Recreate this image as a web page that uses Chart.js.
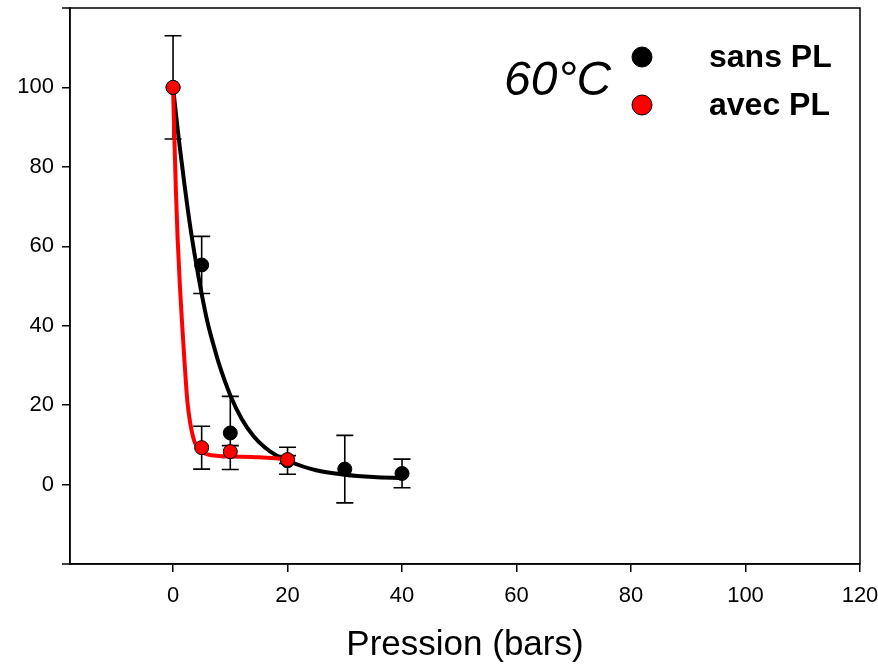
<!DOCTYPE html>
<html>
<head>
<meta charset="utf-8">
<script src="https://cdn.jsdelivr.net/npm/chart.js@4.4.1/dist/chart.umd.min.js"></script>
<style>
  html, body { margin: 0; padding: 0; background: #fff; }
  #wrap { width: 878px; height: 668px; position: relative; }
</style>
</head>
<body>
<div id="wrap"><canvas id="c" width="878" height="668"></canvas></div>
<script>
// Measured points (pressure in bars, relative value in %) with standard deviations
const pressures = [0, 5, 10, 20, 30, 40];
const sansPL = [100, 55.3, 13.0, 6.0, 3.9, 2.8];
const sansPLErr = [13.0, 7.2, 9.2, 3.4, 8.5, 3.6];

const pressuresPL = [0, 5, 10, 20];
const avecPL = [100, 9.3, 8.3, 6.3];
const avecPLErr = [0, 5.4, 1.5, 1.0];

// Fitted decay curves, sampled along the pressure axis
const fitSansX = [0, 1, 2, 3, 4, 5, 6, 7, 8, 10, 12, 14, 16, 18, 20, 25, 30, 35, 40];
const fitSansY = [100, 87, 75.5, 65, 56, 48, 41, 35.5, 30.5, 22.5, 16.5, 12.3, 9.4, 7.4, 6.0, 3.6, 2.5, 1.9, 1.6];
const fitAvecX = [0, 0.25, 0.5, 0.8, 1.2, 1.6, 2.0, 2.5, 3, 3.5, 4, 5, 6, 8, 10, 15, 20];
const fitAvecY = [100, 86.5, 74, 62, 50, 40, 31, 21, 15.5, 12, 10, 8.3, 7.6, 7.2, 7.1, 6.9, 6.4];

const xTicks = [0, 20, 40, 60, 80, 100, 120];
const yTicks = [0, 20, 40, 60, 80, 100];
const yEdgeTicks = [-20, 120];

const seriesNames = ['sans PL', 'avec PL'];
const seriesColors = ['#000000', '#ff0000'];
const tempLabel = '60°C';
const xTitle = 'Pression (bars)';

const pts = (xs, ys) => xs.map((x, i) => ({ x: x, y: ys[i] }));

// Vertical error bars with caps, drawn through the chart scales
const errorBars = {
  id: 'errorBars',
  beforeDatasetsDraw(chart) {
    const { ctx, scales: { x, y } } = chart;
    const sets = [[pressures, sansPL, sansPLErr], [pressuresPL, avecPL, avecPLErr]];
    ctx.save();
    ctx.strokeStyle = '#000';
    ctx.lineWidth = 1.6;
    sets.forEach(([xs, ys, es]) => {
      xs.forEach((xv, i) => {
        if (!es[i]) return;
        const px = x.getPixelForValue(xv);
        const top = y.getPixelForValue(ys[i] + es[i]);
        const bot = y.getPixelForValue(ys[i] - es[i]);
        ctx.beginPath();
        ctx.moveTo(px, top); ctx.lineTo(px, bot);
        ctx.moveTo(px - 8.5, top); ctx.lineTo(px + 8.5, top);
        ctx.moveTo(px - 8.5, bot); ctx.lineTo(px + 8.5, bot);
        ctx.stroke();
      });
    });
    ctx.restore();
  }
};

// Closed frame around the plotting area, plus the unlabelled end ticks of the y axis
const frame = {
  id: 'frame',
  afterDraw(chart) {
    const { ctx, chartArea: a, scales: { y } } = chart;
    ctx.save();
    ctx.strokeStyle = '#000';
    ctx.lineWidth = 1.5;
    ctx.strokeRect(a.left, a.top, a.right - a.left, a.bottom - a.top);
    ctx.beginPath();
    yEdgeTicks.forEach(v => {
      const py = y.getPixelForValue(v);
      ctx.moveTo(a.left - 8, py);
      ctx.lineTo(a.left, py);
    });
    ctx.stroke();
    ctx.restore();
  }
};

// Temperature label and the symbol key in the upper right
const keyBox = {
  id: 'keyBox',
  afterDraw(chart) {
    const { ctx } = chart;
    ctx.save();
    ctx.fillStyle = '#000';
    ctx.textBaseline = 'middle';
    ctx.textAlign = 'left';
    ctx.font = 'italic 48px "Liberation Sans", Arial, sans-serif';
    ctx.fillText(tempLabel, 504, 82);

    const rows = [57, 105];
    seriesNames.forEach((name, i) => {
      ctx.beginPath();
      ctx.arc(642, rows[i], 10, 0, Math.PI * 2);
      ctx.fillStyle = seriesColors[i];
      ctx.fill();
      ctx.lineWidth = 1;
      ctx.strokeStyle = '#000';
      ctx.stroke();
      ctx.fillStyle = '#000';
      ctx.font = 'bold 32px "Liberation Sans", Arial, sans-serif';
      ctx.fillText(name, 709, rows[i] + 1);
    });
    ctx.restore();
  }
};

const tickFont = { family: '"Liberation Sans", Arial, sans-serif', size: 22 };

new Chart(document.getElementById('c'), {
  type: 'scatter',
  data: {
    datasets: [
      {
        label: seriesNames[1] + ' points',
        data: pts(pressuresPL, avecPL),
        showLine: false,
        pointRadius: 7,
        pointBackgroundColor: '#ff0000',
        pointBorderColor: '#000',
        pointBorderWidth: 1,
        order: 0
      },
      {
        label: seriesNames[0] + ' points',
        data: pts(pressures, sansPL),
        showLine: false,
        pointRadius: 7,
        pointBackgroundColor: '#000',
        pointBorderColor: '#000',
        pointBorderWidth: 1,
        order: 1
      },
      {
        label: seriesNames[1] + ' fit',
        data: pts(fitAvecX, fitAvecY),
        showLine: true,
        pointRadius: 0,
        borderColor: '#ff0000',
        borderWidth: 4,
        cubicInterpolationMode: 'monotone',
        order: 2
      },
      {
        label: seriesNames[0] + ' fit',
        data: pts(fitSansX, fitSansY),
        showLine: true,
        pointRadius: 0,
        borderColor: '#000',
        borderWidth: 4,
        cubicInterpolationMode: 'monotone',
        order: 3
      }
    ]
  },
  options: {
    responsive: false,
    animation: false,
    events: [],
    layout: { padding: { left: 0, right: 18, top: 8, bottom: 0 } },
    plugins: { legend: { display: false }, tooltip: { enabled: false } },
    scales: {
      x: {
        type: 'linear',
        min: -18,
        max: 120,
        afterBuildTicks(s) { s.ticks = xTicks.map(v => ({ value: v })); },
        afterFit(s) { s.height = 104; s.paddingLeft = 0; s.paddingRight = 0; },
        ticks: { color: '#000', font: tickFont, padding: 11, maxRotation: 0 },
        grid: { display: true, drawOnChartArea: false, drawTicks: true, tickLength: 8, color: '#000', lineWidth: 1.5 },
        border: { display: true, color: '#000', width: 1.5 },
        title: {
          display: true,
          text: xTitle,
          color: '#000',
          font: { family: '"Liberation Sans", Arial, sans-serif', size: 35 },
          padding: { top: 0, bottom: 2 }
        }
      },
      y: {
        type: 'linear',
        min: -20,
        max: 120,
        afterBuildTicks(s) { s.ticks = yTicks.map(v => ({ value: v })); },
        afterFit(s) { s.width = 70; s.paddingTop = 0; s.paddingBottom = 0; },
        ticks: { color: '#000', font: tickFont, padding: 8 },
        grid: { display: true, drawOnChartArea: false, drawTicks: true, tickLength: 8, color: '#000', lineWidth: 1.5 },
        border: { display: true, color: '#000', width: 1.5 }
      }
    }
  },
  plugins: [errorBars, frame, keyBox]
});
</script>
</body>
</html>
